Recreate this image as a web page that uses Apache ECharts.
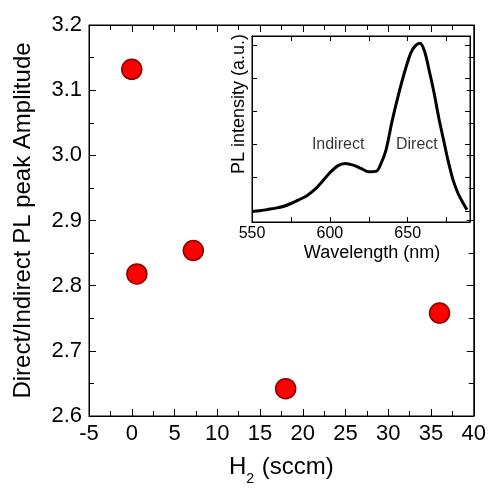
<!DOCTYPE html>
<html>
<head>
<meta charset="utf-8">
<script src="https://cdn.jsdelivr.net/npm/echarts@6/dist/echarts.min.js"></script>
<style>html,body{margin:0;padding:0;background:#fff}#c{width:489px;height:491px}</style>
</head>
<body>
<div id="c"></div>
<script>
// Main chart data
const h2Flow = [0, 0.6, 7.2, 18, 36];
const ampRatio = [3.132, 2.818, 2.854, 2.642, 2.758];
const mainXTicks = [-5, 40, 5];
const mainYTicks = [2.6, 3.2, 0.1];
// Inset spectrum data
const wavelength = [550, 555, 560, 565, 570, 575, 580, 585, 590, 595, 600, 605, 610, 615, 620, 625, 630, 633, 636, 640, 644, 648, 652, 655, 658, 661, 664, 667, 670, 673, 676, 679, 682, 685, 688];
const plIntensity = [-0.02, 0.0, 0.04, 0.08, 0.13, 0.22, 0.33, 0.45, 0.63, 0.88, 1.15, 1.36, 1.43, 1.38, 1.28, 1.18, 1.2, 1.45, 1.83, 2.72, 3.5, 4.2, 4.78, 5.0, 5.07, 4.8, 4.2, 3.55, 2.8, 2.15, 1.5, 0.95, 0.56, 0.28, 0.03];
const insetTicks = [0, 1, 2, 3, 4, 5];
const annotations = [['Indirect', 605.3, 2.0], ['Direct', 655.9, 2.0]];

const FONT = 'Liberation Sans, Arial, sans-serif';
const chart = echarts.init(document.getElementById('c'), null, {renderer: 'canvas'});

const ls = () => ({color: '#000', width: 1});

function axis(extra) {
  return Object.assign({
    type: 'value', z: 10,
    axisLine: {show: true, onZero: false, lineStyle: ls()},
    splitLine: {show: false}
  }, extra);
}

const option = {
  animation: false,
  backgroundColor: '#fff',
  grid: [
    {left: 89, right: 14, top: 25, bottom: 71, show: true, borderColor: '#000', borderWidth: 1, backgroundColor: 'transparent', containLabel: false},
    {left: 252, top: 36, width: 218, height: 186, show: true, borderColor: '#000', borderWidth: 1, backgroundColor: 'transparent', containLabel: false}
  ],
  xAxis: [
    axis({
      gridIndex: 0, position: 'bottom',
      min: mainXTicks[0], max: mainXTicks[1], interval: mainXTicks[2],
      axisTick: {show: true, inside: true, length: 7, lineStyle: ls()},
      minorTick: {show: true, splitNumber: 2, length: 5, lineStyle: ls()},
      axisLabel: {fontFamily: FONT, fontSize: 22, color: '#000', margin: 7},
      name: '{a|H}{s|2}{a| (sccm)}', nameLocation: 'middle', nameGap: 39,
      nameTextStyle: {
        rich: {
          a: {fontFamily: FONT, fontSize: 24, color: '#000', lineHeight: 26, verticalAlign: 'top'},
          s: {fontFamily: FONT, fontSize: 14, color: '#000', lineHeight: 16, padding: [17, 1, 0, 0], verticalAlign: 'top'}
        }
      }
    }),
    axis({
      gridIndex: 0, position: 'top',
      min: mainXTicks[0], max: mainXTicks[1], interval: mainXTicks[2],
      axisTick: {show: true, inside: true, length: 7, lineStyle: ls()},
      minorTick: {show: true, splitNumber: 2, length: 5, lineStyle: ls()},
      axisLabel: {show: false}
    }),
    axis({
      gridIndex: 1, position: 'bottom',
      min: 550, max: 690, interval: 50,
      axisTick: {show: true, inside: true, length: 5, lineStyle: ls()},
      minorTick: {show: true, splitNumber: 2, length: 5, lineStyle: ls()},
      axisLabel: {fontFamily: FONT, fontSize: 16, color: '#000', margin: 4,
        formatter: v => (v >= 690 ? '' : String(v))},
      name: 'Wavelength (nm)', nameLocation: 'middle', nameGap: 22,
      nameTextStyle: {fontFamily: FONT, fontSize: 18, color: '#000', padding: [0, 0, 0, 22]}
    }),
    axis({
      gridIndex: 1, position: 'top',
      min: 550, max: 690, interval: 50,
      axisTick: {show: true, inside: true, length: 5, lineStyle: ls()},
      minorTick: {show: true, splitNumber: 2, length: 5, lineStyle: ls()},
      axisLabel: {show: false}
    })
  ],
  yAxis: [
    axis({
      gridIndex: 0, position: 'left',
      min: mainYTicks[0], max: mainYTicks[1], interval: mainYTicks[2],
      axisTick: {show: true, inside: true, length: 7, lineStyle: ls()},
      minorTick: {show: true, splitNumber: 2, length: 5, lineStyle: ls()},
      axisLabel: {fontFamily: FONT, fontSize: 22, color: '#000', margin: 7, formatter: v => v.toFixed(1)},
      name: 'Direct/Indirect PL peak Amplitude', nameLocation: 'middle', nameRotate: 90, nameGap: 54,
      nameTextStyle: {fontFamily: FONT, fontSize: 24, color: '#000'}
    }),
    axis({
      gridIndex: 0, position: 'right',
      min: mainYTicks[0], max: mainYTicks[1], interval: mainYTicks[2],
      axisTick: {show: true, inside: true, length: 7, lineStyle: ls()},
      minorTick: {show: true, splitNumber: 2, length: 5, lineStyle: ls()},
      axisLabel: {show: false}
    }),
    axis({
      gridIndex: 1, position: 'left',
      min: -0.34, max: 5.29,
      axisTick: {show: true, inside: true, length: 5, lineStyle: ls(), customValues: insetTicks},
      axisLabel: {show: false},
      name: 'PL intensity (a.u.)', nameLocation: 'middle', nameRotate: 90, nameGap: 4,
      nameTextStyle: {fontFamily: FONT, fontSize: 18, color: '#000', padding: [0, 0, 0, 50]}
    }),
    axis({
      gridIndex: 1, position: 'right',
      min: -0.34, max: 5.29,
      axisTick: {show: true, inside: true, length: 5, lineStyle: ls(), customValues: insetTicks},
      axisLabel: {show: false}
    })
  ],
  series: [
    {
      type: 'scatter', xAxisIndex: 0, yAxisIndex: 0,
      data: h2Flow.map((x, i) => [x, ampRatio[i]]),
      symbol: 'circle', symbolSize: 20,
      itemStyle: {color: '#ff0000', borderColor: '#8b0000', borderWidth: 1.5, opacity: 1},
      z: 3
    },
    {
      type: 'line', xAxisIndex: 1, yAxisIndex: 1,
      data: [], silent: true
    },
    {
      type: 'line', xAxisIndex: 2, yAxisIndex: 2,
      data: wavelength.map((x, i) => [x, plIntensity[i]]),
      showSymbol: false, smooth: 0.3,
      lineStyle: {color: '#000', width: 3},
      z: 6
    },
    {
      type: 'line', xAxisIndex: 3, yAxisIndex: 3,
      data: [], silent: true
    },
    {
      type: 'scatter', xAxisIndex: 2, yAxisIndex: 2,
      data: annotations.map(a => ({value: [a[1], a[2]], name: a[0]})),
      symbolSize: 0,
      label: {show: true, position: 'inside', formatter: p => p.name,
        fontFamily: FONT, fontSize: 16, color: '#000'},
      z: 7
    }
  ]
};
chart.setOption(option);
</script>
</body>
</html>
